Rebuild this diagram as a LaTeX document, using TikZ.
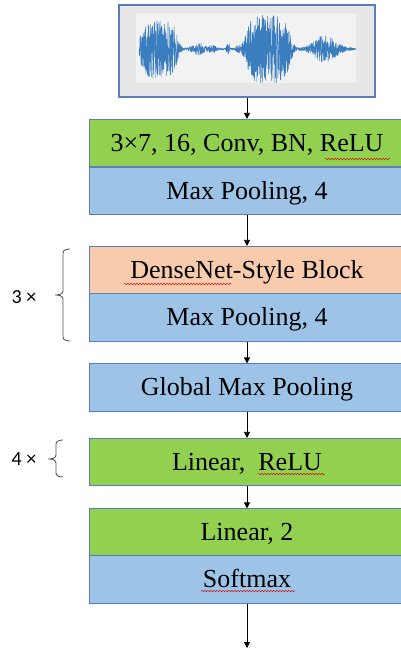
\documentclass[tikz,border=0pt]{standalone}
\usepackage{fontspec}
\setmainfont{Liberation Serif}
\newfontfamily\labelfont{Carlito}
\usetikzlibrary{arrows.meta,decorations.pathmorphing}

\definecolor{lgreen}{HTML}{92D050}
\definecolor{lblue}{HTML}{9DC3E6}
\definecolor{lorange}{HTML}{F8CBAD}
\definecolor{boxline}{HTML}{5B7DB8}
\definecolor{wavecol}{HTML}{3A7EC0}
\definecolor{framefill}{HTML}{E7E7E7}
\definecolor{plotfill}{HTML}{F2F2F2}

\tikzset{
    layer/.style={draw=boxline, line width=0.7pt, minimum width=316pt,
        minimum height=47.5pt, inner sep=0pt, text height=16.6pt,
        text depth=0pt, font=\fontsize{26}{30}\selectfont},
    conv/.style={layer, fill=lgreen},
    pool/.style={layer, fill=lblue},
    dense/.style={layer, fill=lorange},
    flow/.style={line width=0.8pt, -{Triangle[length=6pt,width=6pt]}},
    repeat/.style={line width=0.8pt, draw=black!70},
    squiggle/.style={decorate, draw=red!85!black, line width=0.45pt,
        decoration={snake, segment length=3pt, amplitude=0.7pt}},
    declare function={
        env(\t) = 28*exp(-(min(abs(\t-158.5)/19.5,3))^6)
                + 33*exp(-(min(abs(\t-268)/23,3))^6)
                + 13*exp(-(min(abs(\t-325)/14,3))^2)
                + 5*exp(-(min(abs(\t-199)/8,3))^2)
                + 3*exp(-(min(abs(\t-213)/4,3))^2)
                + 8*exp(-(min(abs(\t-228)/1.5,3))^2)
                + 4*exp(-(min(abs(\t-238)/2,3))^2) + 1;
    }
}

\begin{document}
\begin{tikzpicture}[x=1pt, y=-1pt]
    \useasboundingbox (0,0) rectangle (400,649);

    % input waveform
    \node[draw=boxline, line width=1.1pt, fill=framefill, minimum width=256pt,
        minimum height=92pt, inner sep=0pt] (wave) at (247,51) {};
    \fill[plotfill] (136,13) rectangle (356,83);
    \pgfmathsetseed{11}
    \draw[wavecol, line width=0.5pt, line join=round]
        plot[domain=139:356, samples=1400] (\x, {49 - env(\x)*rand});

    % insert layers
    \node[conv] (c1) at (247,143) {3×7, 16, Conv, BN, ReLU};
    \node[pool] (p1) at (247,191) {Max Pooling, 4};
    \node[dense] (d1) at (247,270) {DenseNet-Style Block};
    \node[pool] (p2) at (247,317.5) {Max Pooling, 4};
    \node[pool] (gp) at (247,387.5) {Global Max Pooling};
    \node[conv] (l1) at (247,462) {Linear,\ \ ReLU};
    \node[conv] (l2) at (247,532.5) {Linear, 2};
    \node[pool] (sm) at (247,579.5) {Softmax};
    \coordinate (out) at (247,648);

    % insert links
    \draw[flow] (wave) -- (c1);
    \draw[flow] (p1) -- (d1);
    \draw[flow] (p2) -- (gp);
    \draw[flow] (gp) -- (l1);
    \draw[flow] (l1) -- (l2);
    \draw[flow] (sm) -- (out);

    % repeat counts
    \node[font=\labelfont\fontsize{20}{22}\selectfont] (n3) at (24,297) {3 ×};
    \node[font=\labelfont\fontsize{20}{22}\selectfont] (n4) at (24,459) {4 ×};
    \draw[repeat] (70,249) to[out=180,in=90] (63,253) -- (63,291)
        to[out=-90,in=0] (55,295) to[out=0,in=90] (63,299) -- (63,337)
        to[out=-90,in=180] (70,341);
    \draw[repeat] (63,440) to[out=180,in=90] (56,444) -- (56,455)
        to[out=-90,in=0] (48,459) to[out=0,in=90] (56,463) -- (56,473)
        to[out=-90,in=180] (63,477);

    % spell-check marks
    \draw[squiggle] (325,159) -- (390,159);
    \draw[squiggle] (124,284) -- (232,284);
    \draw[squiggle] (258,474) -- (325,474);
    \draw[squiggle] (201,591) -- (295,591);
\end{tikzpicture}
\end{document}
